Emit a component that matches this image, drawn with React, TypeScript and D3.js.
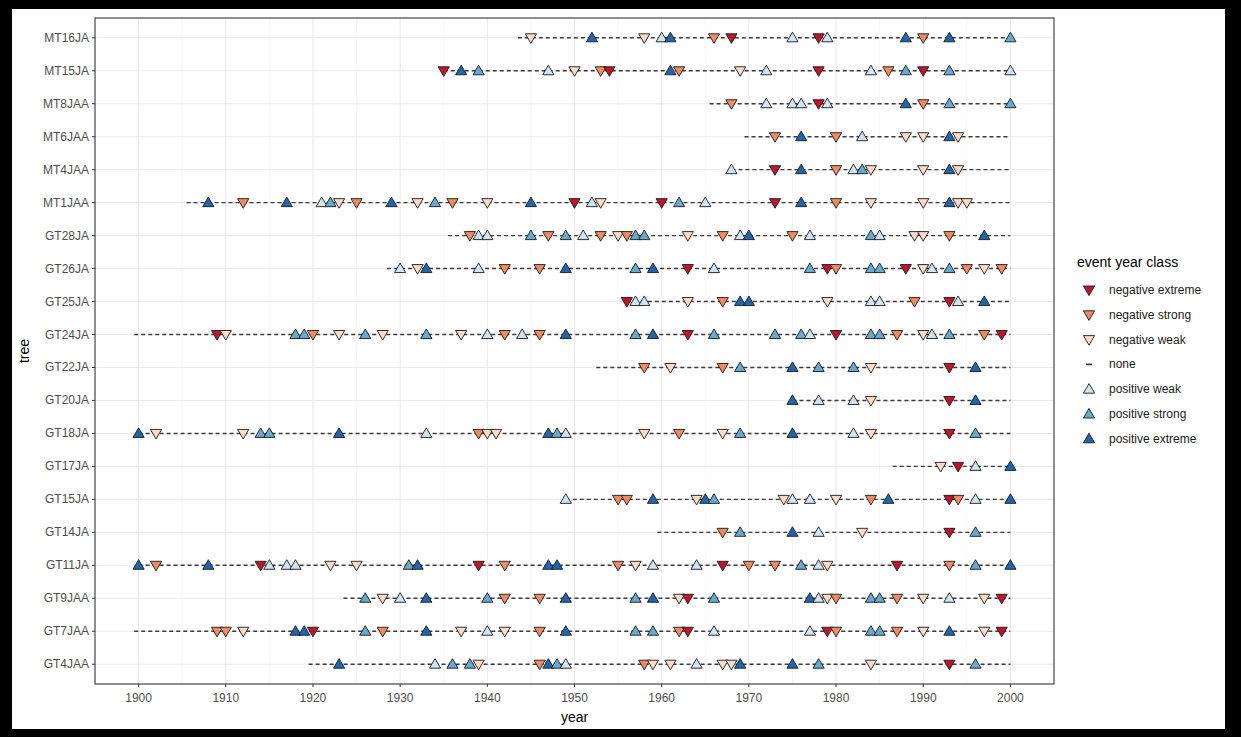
import React from 'react'
import * as d3 from 'd3'

// tree order, top to bottom
const trees = ['MT16JA', 'MT15JA', 'MT8JAA', 'MT6JAA', 'MT4JAA', 'MT1JAA', 'GT28JA', 'GT26JA', 'GT25JA', 'GT24JA',
  'GT22JA', 'GT20JA', 'GT18JA', 'GT17JA', 'GT15JA', 'GT14JA', 'GT11JA', 'GT9JAA', 'GT7JAA', 'GT4JAA']

// first year of each series (same order as trees), all end in 2000
const startYears = [1943.5, 1935, 1965.5, 1969.5, 1968, 1905.5, 1935.5, 1928.5, 1956, 1899.5,
  1952.5, 1975, 1900, 1986.5, 1949, 1959.5, 1900, 1923.5, 1899.5, 1919.5]
const endYear = 2000

const classKeys = ['ne', 'ns', 'nw', 'none', 'pw', 'ps', 'pe']
const classLabels = ['negative extreme', 'negative strong', 'negative weak', 'none', 'positive weak', 'positive strong', 'positive extreme']
const classColors = ['#c0152b', '#ef8a62', '#fddbc7', '#f7f7f7', '#d1e5f0', '#67a9cf', '#2166ac']

const xTicks = [1900, 1910, 1920, 1930, 1940, 1950, 1960, 1970, 1980, 1990, 2000]

// event years per tree: [year, class]
const events: Record<string, [number, string][]> = {
  MT16JA: [[1945, 'nw'], [1952, 'pe'], [1958, 'nw'], [1960, 'pw'], [1961, 'pe'], [1966, 'ns'], [1968, 'ne'], [1975, 'pw'], [1978, 'ne'], [1979, 'pw'], [1988, 'pe'], [1990, 'ns'], [1993, 'pe'], [2000, 'ps']],
  MT15JA: [[1935, 'ne'], [1937, 'pe'], [1939, 'ps'], [1947, 'pw'], [1950, 'nw'], [1953, 'ns'], [1954, 'ne'], [1961, 'pe'], [1962, 'ns'], [1969, 'nw'], [1972, 'pw'], [1978, 'ne'], [1984, 'pw'], [1986, 'ns'], [1988, 'ps'], [1990, 'ne'], [1993, 'ps'], [2000, 'pw']],
  MT8JAA: [[1968, 'ns'], [1972, 'pw'], [1975, 'pw'], [1976, 'pw'], [1978, 'ne'], [1979, 'pw'], [1988, 'pe'], [1990, 'ns'], [1993, 'ps'], [2000, 'ps']],
  MT6JAA: [[1973, 'ns'], [1976, 'pe'], [1980, 'ns'], [1983, 'pw'], [1988, 'nw'], [1990, 'nw'], [1993, 'pe'], [1994, 'nw']],
  MT4JAA: [[1968, 'pw'], [1973, 'ne'], [1976, 'pe'], [1980, 'ns'], [1982, 'pw'], [1983, 'ps'], [1984, 'nw'], [1990, 'nw'], [1993, 'pe'], [1994, 'nw']],
  MT1JAA: [[1908, 'pe'], [1912, 'ns'], [1917, 'pe'], [1921, 'pw'], [1922, 'ps'], [1923, 'nw'], [1925, 'ns'], [1929, 'pe'], [1932, 'nw'], [1934, 'ps'], [1936, 'ns'], [1940, 'nw'], [1945, 'pe'], [1950, 'ne'], [1952, 'pw'], [1953, 'nw'], [1960, 'ne'], [1962, 'ps'], [1965, 'pw'], [1973, 'ne'], [1976, 'pe'], [1980, 'ns'], [1984, 'nw'], [1990, 'nw'], [1993, 'pe'], [1994, 'nw'], [1995, 'nw']],
  GT28JA: [[1938, 'ns'], [1939, 'pw'], [1940, 'pw'], [1945, 'ps'], [1947, 'ns'], [1949, 'ps'], [1951, 'pw'], [1953, 'ns'], [1955, 'nw'], [1956, 'ns'], [1957, 'ps'], [1958, 'ps'], [1963, 'nw'], [1967, 'ns'], [1969, 'pw'], [1970, 'pe'], [1975, 'ns'], [1977, 'pw'], [1984, 'ps'], [1985, 'pw'], [1989, 'nw'], [1990, 'nw'], [1993, 'ns'], [1997, 'pe']],
  GT26JA: [[1930, 'pw'], [1932, 'nw'], [1933, 'pe'], [1939, 'pw'], [1942, 'ns'], [1946, 'ns'], [1949, 'pe'], [1957, 'ps'], [1959, 'pe'], [1963, 'ne'], [1966, 'pw'], [1977, 'ps'], [1979, 'ne'], [1980, 'ns'], [1984, 'ps'], [1985, 'ps'], [1988, 'ne'], [1990, 'nw'], [1991, 'pw'], [1993, 'ps'], [1995, 'ns'], [1997, 'nw'], [1999, 'ns']],
  GT25JA: [[1956, 'ne'], [1957, 'pw'], [1958, 'pw'], [1963, 'nw'], [1967, 'ns'], [1969, 'pe'], [1970, 'pe'], [1979, 'nw'], [1984, 'pw'], [1985, 'pw'], [1989, 'ns'], [1993, 'ne'], [1994, 'pw'], [1997, 'pe']],
  GT24JA: [[1909, 'ne'], [1910, 'nw'], [1918, 'ps'], [1919, 'ps'], [1920, 'ns'], [1923, 'nw'], [1926, 'ps'], [1928, 'nw'], [1933, 'ps'], [1937, 'nw'], [1940, 'pw'], [1942, 'ns'], [1944, 'pw'], [1946, 'ns'], [1949, 'pe'], [1957, 'ps'], [1959, 'pe'], [1963, 'ne'], [1966, 'ps'], [1973, 'ps'], [1976, 'ps'], [1977, 'pw'], [1980, 'ne'], [1984, 'ps'], [1985, 'ps'], [1987, 'ns'], [1990, 'nw'], [1991, 'pw'], [1993, 'ps'], [1997, 'ns'], [1999, 'ne']],
  GT22JA: [[1958, 'ns'], [1961, 'nw'], [1967, 'ns'], [1969, 'ps'], [1975, 'pe'], [1978, 'ps'], [1982, 'ps'], [1984, 'nw'], [1993, 'ne'], [1996, 'pe']],
  GT20JA: [[1975, 'pe'], [1978, 'pw'], [1982, 'pw'], [1984, 'nw'], [1993, 'ne'], [1996, 'pe']],
  GT18JA: [[1900, 'pe'], [1902, 'nw'], [1912, 'nw'], [1914, 'ps'], [1915, 'ps'], [1923, 'pe'], [1933, 'pw'], [1939, 'ns'], [1940, 'nw'], [1941, 'nw'], [1947, 'pe'], [1948, 'ps'], [1949, 'pw'], [1958, 'nw'], [1962, 'ns'], [1967, 'nw'], [1969, 'ps'], [1975, 'pe'], [1982, 'pw'], [1984, 'nw'], [1993, 'ne'], [1996, 'ps']],
  GT17JA: [[1992, 'nw'], [1994, 'ne'], [1996, 'pw'], [2000, 'pe']],
  GT15JA: [[1949, 'pw'], [1955, 'ns'], [1956, 'ns'], [1959, 'pe'], [1964, 'nw'], [1965, 'pe'], [1966, 'ps'], [1974, 'nw'], [1975, 'pw'], [1977, 'pw'], [1980, 'nw'], [1984, 'ns'], [1986, 'pe'], [1993, 'ne'], [1994, 'ns'], [1996, 'pw'], [2000, 'pe']],
  GT14JA: [[1967, 'ns'], [1969, 'ps'], [1975, 'pe'], [1978, 'pw'], [1983, 'nw'], [1993, 'ne'], [1996, 'ps']],
  GT11JA: [[1900, 'pe'], [1902, 'ns'], [1908, 'pe'], [1914, 'ne'], [1915, 'pw'], [1917, 'pw'], [1918, 'pw'], [1922, 'nw'], [1925, 'nw'], [1931, 'ps'], [1932, 'pe'], [1939, 'ne'], [1942, 'ns'], [1947, 'pe'], [1948, 'pe'], [1955, 'ns'], [1957, 'nw'], [1959, 'pw'], [1964, 'pw'], [1967, 'ne'], [1970, 'ns'], [1973, 'ns'], [1976, 'ps'], [1978, 'pw'], [1979, 'nw'], [1987, 'ne'], [1993, 'ns'], [1996, 'ps'], [2000, 'pe']],
  GT9JAA: [[1926, 'ps'], [1928, 'nw'], [1930, 'pw'], [1933, 'pe'], [1940, 'ps'], [1942, 'ns'], [1946, 'ns'], [1949, 'pe'], [1957, 'ps'], [1959, 'pe'], [1962, 'nw'], [1963, 'ne'], [1966, 'ps'], [1977, 'pe'], [1978, 'pw'], [1979, 'nw'], [1980, 'ns'], [1984, 'ps'], [1985, 'ps'], [1987, 'ns'], [1990, 'nw'], [1993, 'pw'], [1997, 'nw'], [1999, 'ne']],
  GT7JAA: [[1909, 'ns'], [1910, 'ns'], [1912, 'nw'], [1918, 'pe'], [1919, 'pe'], [1920, 'ne'], [1926, 'ps'], [1928, 'ns'], [1933, 'pe'], [1937, 'nw'], [1940, 'pw'], [1942, 'nw'], [1946, 'ns'], [1949, 'pe'], [1957, 'ps'], [1959, 'ps'], [1962, 'ns'], [1963, 'ne'], [1966, 'pw'], [1977, 'pw'], [1979, 'ne'], [1980, 'ns'], [1984, 'ps'], [1985, 'ps'], [1987, 'ns'], [1990, 'nw'], [1993, 'pe'], [1997, 'nw'], [1999, 'ne']],
  GT4JAA: [[1923, 'pe'], [1934, 'pw'], [1936, 'ps'], [1938, 'ps'], [1939, 'nw'], [1946, 'ns'], [1947, 'pe'], [1948, 'ps'], [1949, 'pw'], [1958, 'ns'], [1959, 'nw'], [1961, 'nw'], [1964, 'pw'], [1967, 'nw'], [1968, 'nw'], [1969, 'pe'], [1975, 'pe'], [1978, 'ps'], [1984, 'nw'], [1993, 'ne'], [1996, 'ps']],
}

const W = 1241
const H = 737
const panel = { left: 95, right: 1054, top: 18, bottom: 684 }
const font = '"Liberation Sans", Arial, sans-serif'

const upTri = 'M0,-5.6L5.6,4L-5.6,4Z'
const downTri = 'M0,5.6L5.6,-4L-5.6,-4Z'

const Marker = ({ x, y, cls }: { x: number, y: number, cls: string }) => {
  const i = classKeys.indexOf(cls)
  if (cls === 'none') {
    return <line x1={x - 3} x2={x + 3} y1={y} y2={y} stroke="#333" strokeWidth={1.6} />
  }
  return (
    <path transform={`translate(${x},${y})`} d={cls[0] === 'n' ? downTri : upTri}
      fill={classColors[i]} stroke="#1a1a1a" strokeWidth={0.9} strokeLinejoin="round" />
  )
}

export default function App() {
  const x = d3.scaleLinear().domain([1895, 2005]).range([panel.left, panel.right])
  const y = d3.scalePoint().domain(trees).range([panel.top, panel.bottom]).padding(0.6)
  const minorTicks = d3.range(1905, 2000, 10)

  return (
    <svg width={W} height={H} style={{ position: 'absolute', left: 0, top: 0, fontFamily: font }}>
      <rect x={0} y={0} width={W} height={H} fill="#000" />
      <rect x={12} y={9} width={1213} height={720} fill="#fff" />

      {/* grid */}
      {minorTicks.map(t =>
        <line key={'mi' + t} x1={x(t)} x2={x(t)} y1={panel.top} y2={panel.bottom} stroke="#f0f0f0" strokeWidth={0.6} />
      )}
      {xTicks.map(t =>
        <line key={'ma' + t} x1={x(t)} x2={x(t)} y1={panel.top} y2={panel.bottom} stroke="#ebebeb" strokeWidth={1.1} />
      )}
      {trees.map(t =>
        <line key={'h' + t} x1={panel.left} x2={panel.right} y1={y(t)} y2={y(t)} stroke="#ebebeb" strokeWidth={1.1} />
      )}

      {/* series lines */}
      {trees.map((t, i) =>
        <line key={'l' + t} x1={x(startYears[i])} x2={x(endYear)} y1={y(t)} y2={y(t)}
          stroke="#3a3a3a" strokeWidth={1.4} strokeDasharray="4,3" />
      )}

      {/* event markers */}
      {trees.map(t =>
        <g key={'m' + t}>
          {events[t].map(([yr, c], j) => <Marker key={j} x={x(yr)} y={y(t)!} cls={c} />)}
        </g>
      )}

      <rect x={panel.left} y={panel.top} width={panel.right - panel.left} height={panel.bottom - panel.top}
        fill="none" stroke="#333" strokeWidth={1.1} />

      {/* y axis */}
      {trees.map(t =>
        <g key={'yt' + t}>
          <line x1={panel.left - 3} x2={panel.left} y1={y(t)} y2={y(t)} stroke="#333" strokeWidth={1} />
          <text x={panel.left - 6} y={y(t)! + 4} textAnchor="end" fontSize={12} fill="#4d4d4d">{t}</text>
        </g>
      )}
      {/* x axis */}
      {xTicks.map(t =>
        <g key={'xt' + t}>
          <line x1={x(t)} x2={x(t)} y1={panel.bottom} y2={panel.bottom + 3} stroke="#333" strokeWidth={1} />
          <text x={x(t)} y={panel.bottom + 18} textAnchor="middle" fontSize={12} fill="#4d4d4d">{t}</text>
        </g>
      )}
      <text x={(panel.left + panel.right) / 2} y={722} textAnchor="middle" fontSize={14} fill="#000">year</text>
      <text transform={`translate(29,${(panel.top + panel.bottom) / 2}) rotate(-90)`} textAnchor="middle" fontSize={14} fill="#000">tree</text>

      {/* legend */}
      <text x={1077} y={267} fontSize={14} fill="#000">event year class</text>
      {classKeys.map((c, i) =>
        <g key={'lg' + c}>
          <Marker x={1089} y={290 + i * 24.8} cls={c} />
          <text x={1109} y={290 + i * 24.8 + 4} fontSize={12} fill="#1a1a1a">{classLabels[i]}</text>
        </g>
      )}
    </svg>
  )
}
